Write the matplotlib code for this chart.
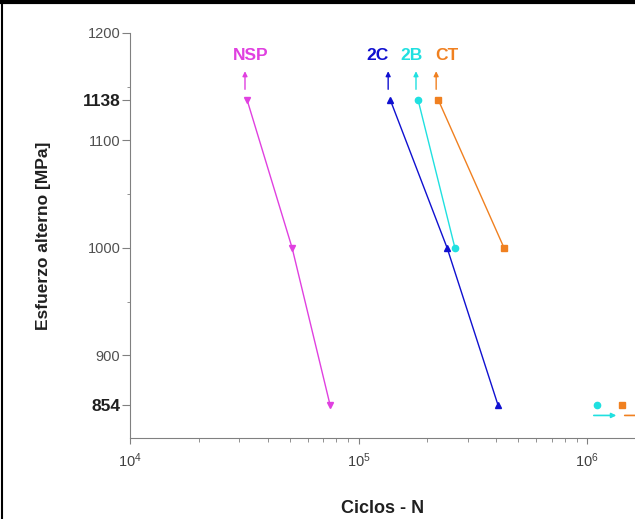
import numpy as np
import matplotlib.pyplot as plt
from matplotlib.lines import Line2D

plt.rcParams['font.family'] = ['Liberation Sans', 'DejaVu Sans']

# datos
esfuerzo = [1138, 1000, 854]
ciclos_nsp = [32500, 51200, 75000]
ciclos_2c = [137500, 244000, 407000]
ciclos_2b = [182000, 264000]
ciclos_ct = [223000, 433000]
runout_2b = 1.11e6     # sin rotura a 854 MPa
runout_ct = 1.42e6

series = [
    ('NSP', ciclos_nsp, 'v', '#e040e0'),
    ('2C', ciclos_2c, '^', '#1010d0'),
    ('2B', ciclos_2b, 'o', '#20e0e0'),
    ('CT', ciclos_ct, 's', '#f08020'),
]
lbl_x = {'NSP': 33900, '2C': 120500, '2B': 171000, 'CT': 244000}

fig = plt.figure(figsize=(6.35, 5.19), dpi=100)
ax = fig.add_axes([130 / 635, 1 - 438 / 519, 1 - 130 / 635, (438 - 33) / 519])

for nombre, n, mk, col in series:
    s = esfuerzo[:len(n)]
    ax.plot(n, s, color=col, lw=1, marker=mk, ms=4.5, clip_on=False, zorder=3)
    # flecha hacia arriba sobre el primer punto
    ax.annotate('', xy=(n[0] * 0.98, 1167), xytext=(n[0] * 0.98, 1145),
                arrowprops=dict(arrowstyle='-|>', color=col, lw=1, mutation_scale=7))
    ax.text(lbl_x[nombre], 1179, nombre, color=col, fontsize=12.5, fontweight='bold',
            ha='center', va='center')

# puntos sin rotura
ax.plot([runout_2b], [854], 'o', color='#20e0e0', ms=4.5, clip_on=False)
ax.plot([runout_ct], [854], 's', color='#f08020', ms=4.5, clip_on=False)
ax.annotate('', xy=(1.38e6, 844), xytext=(1.04e6, 844),
            arrowprops=dict(arrowstyle='-|>', color='#20e0e0', lw=1.2, mutation_scale=7))
ax.annotate('', xy=(1.8e6, 844), xytext=(1.42e6, 844), annotation_clip=False,
            arrowprops=dict(arrowstyle='-|>', color='#f08020', lw=1.2, mutation_scale=7))

ax.set_xscale('log')
ax.set_xlim(1e4, 1.62e6)
ax.set_ylim(823, 1200)
ax.spines['top'].set_visible(False)
ax.spines['right'].set_visible(False)
for sp in ['left', 'bottom']:
    ax.spines[sp].set_color('#808080')
ax.set_yticks([854, 900, 1000, 1100, 1138, 1200])
ax.set_yticks([950, 1050, 1150], minor=True)
ax.set_yticklabels(['854', '900', '1000', '1100', '1138', '1200'])
for t in ax.get_yticklabels():
    if t.get_text() in ('854', '1138'):
        t.set_fontweight('bold')
        t.set_fontsize(12.5)
        t.set_color('#202020')
    else:
        t.set_fontsize(10.5)
        t.set_color('#505050')
ax.set_xticks([1e4, 1e5, 1e6])
ax.tick_params(axis='x', labelsize=10.5, labelcolor='#404040', length=4, color='#808080', pad=6)
ax.tick_params(axis='x', which='minor', length=3, color='#808080')
ax.tick_params(axis='y', length=6, color='#808080', pad=1)
ax.tick_params(axis='y', which='minor', length=2, color='#808080')

ax.set_ylabel('Esfuerzo alterno [MPa]', fontsize=12.5, fontweight='bold', labelpad=23,
              color='#202020')
ax.set_xlabel('Ciclos - N', fontsize=13, fontweight='bold', labelpad=21, color='#202020')

# marco de la celda
fig.add_artist(Line2D([0, 1], [0.997, 0.997], color='black', lw=3, transform=fig.transFigure))
fig.add_artist(Line2D([0.003, 0.003], [0, 1], color='black', lw=1.5, transform=fig.transFigure))

fig.savefig('out.png', dpi=100)
